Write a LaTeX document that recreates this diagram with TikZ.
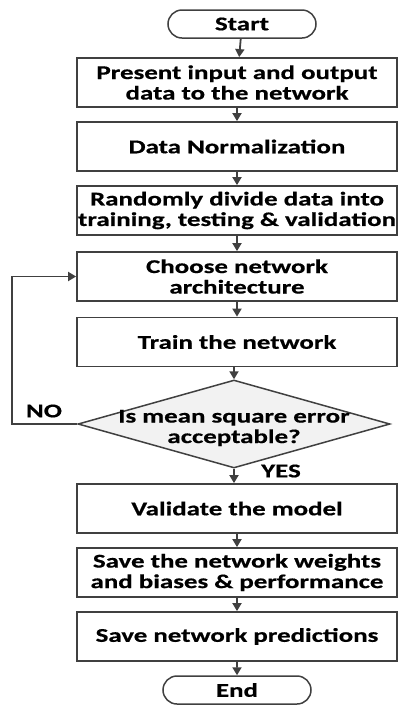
\documentclass[tikz,border=0pt]{standalone}
\usepackage{fontspec}
\setmainfont[FakeStretch=1.38]{Carlito}[BoldFeatures={FakeBold=0.6}]
\usetikzlibrary{shapes.geometric,shapes.misc,arrows.meta}
\definecolor{edgegray}{HTML}{404040}
\definecolor{fillgray}{HTML}{F2F2F2}
\tikzset{
  process/.style={draw=edgegray, line width=1.8pt, minimum width=320pt, minimum height=49pt, align=center, inner sep=0pt},
  terminal/.style={rounded rectangle, draw=edgegray, line width=1.5pt, minimum width=148pt, minimum height=28pt, inner sep=0pt},
  decision/.style={diamond, draw=edgegray, fill=fillgray, line width=1.5pt, minimum width=312pt, minimum height=88pt, inner sep=0pt},
  flow/.style={draw=edgegray, line width=1.8pt, -{Triangle[length=8pt,width=9pt]}},
}
\begin{document}
\begin{tikzpicture}[x=1pt, y=-1pt, font=\bfseries\fontsize{19.5}{20.5}\selectfont]
            \useasboundingbox (0,0) rectangle (398,705);
            % main column
            \node[terminal] (start) at (242,24) {Start};
            \node[process] (present) at (237,82.5) {Present input and output\\data to the network};
            \node[process] (norm) at (237,146.5) {Data Normalization};
            \node[process] (divide) at (237,210.5) {Randomly divide data into\\training, testing \& validation};
            \node[process] (arch) at (237,276.5) {Choose network\\architecture};
            \node[process] (train) at (237,342) {Train the network};
            \node[decision, label={[align=center, yshift=-4pt]center:{Is mean square error\\acceptable?}}] (check) at (234,424) {};
            \node[process] (valid) at (237,508.5) {Validate the model};
            \node[process] (save) at (237,572.5) {Save the network weights\\and biases \& performance};
            \node[process] (pred) at (237,636.5) {Save network predictions};
            \node[terminal] (end) at (237,690) {End};
            \coordinate (loop) at (12,424);
            \draw[flow] (start) -- (present);
            \draw[flow] (present) -- (norm);
            \draw[flow] (norm) -- (divide);
            \draw[flow] (divide) -- (arch);
            \draw[flow] (arch) -- (train);
            \draw[flow] (train.south -| check) -- (check.north);
            \draw[flow] (check.south) -- (valid.north -| check);
            \draw[flow] (valid) -- (save);
            \draw[flow] (save) -- (pred);
            \draw[flow] (pred) -- (end);
            % back loop
            \draw[flow] (check.west) -- (loop) |- (arch.west);
            \node (no) at (44,411) {NO};
            \node (yes) at (281,471) {YES};
\end{tikzpicture}
\end{document}
